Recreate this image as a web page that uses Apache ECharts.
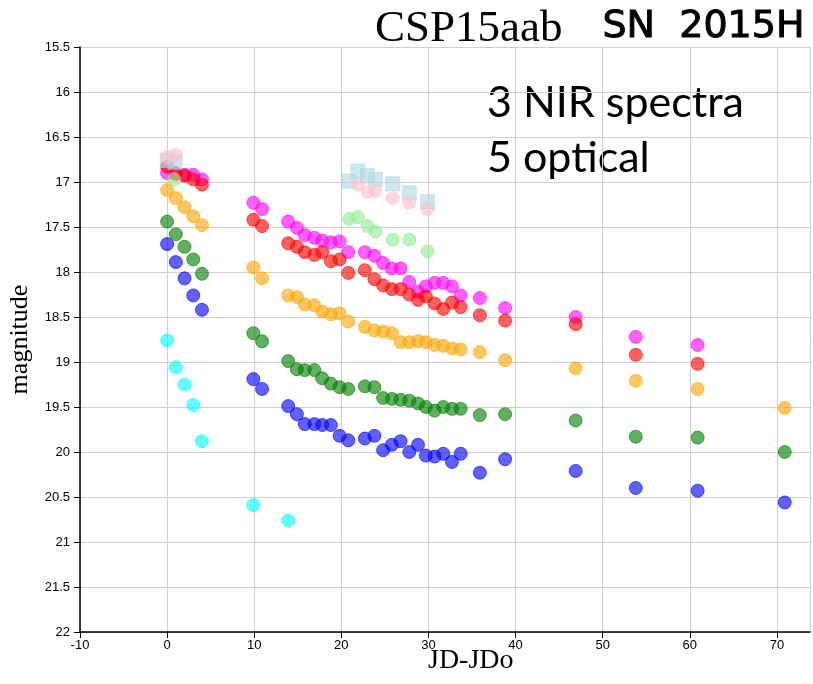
<!DOCTYPE html>
<html>
<head>
<meta charset="utf-8">
<title>CSP15aab light curve</title>
<script src="https://cdn.jsdelivr.net/npm/echarts@6/dist/echarts.min.js"></script>
<style>
  html, body { margin: 0; padding: 0; background: #fff; }
  #chart { width: 813px; height: 684px; }
</style>
</head>
<body>
<div id="chart"></div>
<script>
// Shared optical epochs (days since JDo)
const epochs = [0, 1, 2, 3, 4, 9.9, 10.9, 13.9, 14.9, 15.8, 16.9, 17.8, 18.8, 19.8, 20.8,
  22.7, 23.8, 24.8, 25.8, 26.8, 27.8, 28.8, 29.7, 30.7, 31.7, 32.7, 33.7,
  35.9, 38.8, 46.9, 53.8, 60.9, 70.9];

const magBlue = [17.69, 17.89, 18.07, 18.26, 18.42, 19.19, 19.30, 19.49, 19.58, 19.69, 19.69, 19.70, 19.70, 19.82, 19.87,
  19.85, 19.82, 19.98, 19.92, 19.88, 20.00, 19.92, 20.04, 20.05, 20.02, 20.11, 20.02,
  20.23, 20.08, 20.21, 20.40, 20.43, 20.56];
const magGreen = [17.44, 17.58, 17.72, 17.86, 18.02, 18.68, 18.77, 18.99, 19.08, 19.09, 19.09, 19.18, 19.24, 19.28, 19.30,
  19.27, 19.28, 19.40, 19.41, 19.42, 19.43, 19.46, 19.50, 19.54, 19.50, 19.52, 19.52,
  19.59, 19.58, 19.65, 19.83, 19.84, 20.00];
const magOrange = [17.09, 17.18, 17.28, 17.38, 17.48, 17.95, 18.07, 18.26, 18.28, 18.36, 18.37, 18.44, 18.47, 18.46, 18.55,
  18.61, 18.65, 18.66, 18.68, 18.78, 18.78, 18.77, 18.78, 18.81, 18.82, 18.85, 18.86,
  18.89, 18.98, 19.07, 19.21, 19.30, 19.51];
const magRed = [16.83, 16.91, 16.93, 16.97, 17.03, 17.42, 17.49, 17.68, 17.72, 17.78, 17.81, 17.78, 17.88, 17.86, 18.01,
  17.98, 18.08, 18.15, 18.19, 18.19, 18.25, 18.31, 18.27, 18.35, 18.41, 18.34, 18.39,
  18.48, 18.54, 18.58, 18.92, 19.02, null];
const magMagenta = [16.90, 16.90, 16.92, 16.92, 16.97, 17.23, 17.30, 17.44, 17.51, 17.59, 17.62, 17.65, 17.67, 17.66, 17.78,
  17.78, 17.82, 17.90, 17.96, 17.96, 18.11, 18.22, 18.16, 18.12, 18.12, 18.16, 18.26,
  18.29, 18.40, 18.50, 18.72, 18.81, null];

// UV band, early epochs only
const tCyan = [0, 1, 2, 3, 4, 9.9, 13.9];
const magCyan = [18.76, 19.06, 19.25, 19.48, 19.88, 20.59, 20.76];

// NIR bands
const tLightGreen = [0.8, 20.9, 21.9, 23.0, 23.9, 25.9, 27.8, 29.9];
const magLightGreen = [16.97, 17.41, 17.39, 17.49, 17.55, 17.64, 17.64, 17.77];
const tPink = [0, 1, 21.9, 23.0, 23.9, 25.9, 27.8, 29.9];
const magPink = [16.72, 16.70, 17.03, 17.11, 17.10, 17.18, 17.23, 17.30];
const tLightBlue = [0, 0.9, 20.9, 21.9, 23.0, 23.9, 25.9, 27.8, 29.9];
const magLightBlue = [16.76, 16.78, 16.99, 16.88, 16.93, 16.97, 17.02, 17.12, 17.22];

const xTicks = [-10, 0, 10, 20, 30, 40, 50, 60, 70];
const yTicks = [15.5, 16, 16.5, 17, 17.5, 18, 18.5, 19, 19.5, 20, 20.5, 21, 21.5, 22];

function pairs(ts, ms) {
  const out = [];
  for (let i = 0; i < ts.length; i++) {
    if (ms[i] !== null && ms[i] !== undefined) out.push([ts[i], ms[i]]);
  }
  return out;
}

function band(name, color, ts, ms, symbol, size) {
  return {
    name: name,
    type: 'scatter',
    symbol: symbol || 'circle',
    symbolSize: size || 13,
    data: pairs(ts, ms),
    itemStyle: { color: color, opacity: 0.62, borderColor: color, borderWidth: 1 },
    emphasis: { disabled: true },
    silent: true
  };
}

const chart = echarts.init(document.getElementById('chart'), null, { renderer: 'canvas' });

const axisFont = { fontFamily: 'Liberation Sans', fontSize: 13, color: '#000' };

chart.setOption({
  animation: false,
  backgroundColor: '#fff',
  grid: { left: 80, right: 3, top: 47, bottom: 52, containLabel: false, outerBoundsMode: 'none' },
  xAxis: {
    type: 'value',
    min: xTicks[0],
    max: 73.8,
    interval: 10,
    axisLine: { show: true, onZero: false, lineStyle: { color: '#000', width: 1.5 } },
    axisTick: { show: true, inside: false, length: 6, lineStyle: { color: '#000' } },
    axisLabel: Object.assign({ margin: 7, showMaxLabel: false }, axisFont),
    splitLine: { show: true, lineStyle: { color: '#cfcfcf', width: 1 } }
  },
  yAxis: {
    type: 'value',
    inverse: true,
    min: yTicks[0],
    max: yTicks[yTicks.length - 1],
    interval: 0.5,
    name: 'magnitude',
    nameLocation: 'middle',
    nameGap: 47,
    nameTextStyle: { fontFamily: 'Liberation Serif', fontSize: 26, color: '#000' },
    axisLine: { show: true, onZero: false, lineStyle: { color: '#000', width: 1.5 } },
    axisTick: { show: true, inside: false, length: 6, lineStyle: { color: '#000' } },
    axisLabel: Object.assign({ margin: 10 }, axisFont),
    splitLine: { show: true, lineStyle: { color: '#cfcfcf', width: 1 } }
  },
  series: [
    band('uvm2', '#00ffff', tCyan, magCyan),
    band('B', '#0000ff', epochs, magBlue),
    band('V', '#008000', epochs, magGreen),
    band('r', '#ffa500', epochs, magOrange),
    band('i', '#ff00ff', epochs, magMagenta),
    band('g', '#ff0000', epochs, magRed),
    band('Y', '#90ee90', tLightGreen, magLightGreen),
    band('H', '#add8e6', tLightBlue, magLightBlue, 'rect', 14),
    band('J', '#ffc0cb', tPink, magPink)
  ],
  graphic: [
    {
      type: 'text', left: 375, top: 7, silent: true,
      style: { text: 'CSP15aab', font: '45px "Liberation Serif"', fill: '#000' }
    },
    {
      type: 'text', left: 602, top: 8, silent: true,
      style: { text: 'SN  2015H', font: '38px "DejaVu Sans"', fill: '#000', stroke: '#000', lineWidth: 1 }
    },
    {
      type: 'text', left: 487, top: 82, silent: true,
      style: { text: '3 NIR spectra', font: '43px Lato', fill: '#000' }
    },
    {
      type: 'text', left: 487, top: 137, silent: true,
      style: { text: '5 optical', font: '43px Lato', fill: '#000' }
    },
    {
      type: 'text', left: 428, top: 647, silent: true,
      style: { text: 'JD-JDo', font: '28px "Liberation Serif"', fill: '#000' }
    }
  ]
});
</script>
</body>
</html>
